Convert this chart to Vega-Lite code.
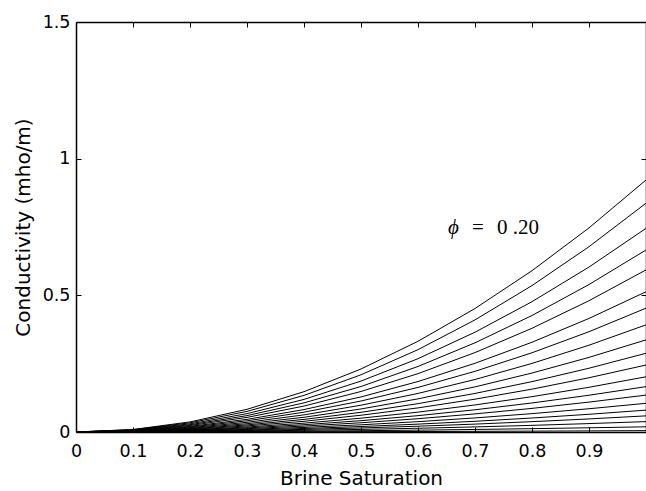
{
  "$schema": "https://vega.github.io/schema/vega-lite/v6.json",
  "width": 570,
  "height": 410,
  "autosize": {"type": "none"},
  "padding": {"left": 76, "top": 22, "right": 0, "bottom": 59},
  "background": "white",
  "config": {
    "view": {"stroke": null},
    "axis": {
      "grid": false,
      "domainColor": "black",
      "domainWidth": 1.5,
      "tickColor": "black",
      "tickWidth": 1,
      "tickSize": -5,
      "labelColor": "black",
      "labelFont": "DejaVu Sans",
      "labelFontSize": 17.5,
      "labelFlush": false,
      "labelOverlap": false,
      "titleFont": "DejaVu Sans",
      "titleFontSize": 20,
      "titleFontWeight": "normal",
      "titleColor": "black"
    }
  },
  "resolve": {"scale": {"x": "shared", "y": "shared"}, "axis": {"x": "independent", "y": "independent"}},
  "layer": [
    {
      "data": {"values": [
        {"phi":0.20,"S":0,"sigma":0},{"phi":0.20,"S":0.1,"sigma":0.0092},{"phi":0.20,"S":0.2,"sigma":0.0369},{"phi":0.20,"S":0.3,"sigma":0.0830},{"phi":0.20,"S":0.4,"sigma":0.1475},{"phi":0.20,"S":0.5,"sigma":0.2305},{"phi":0.20,"S":0.6,"sigma":0.3319},{"phi":0.20,"S":0.7,"sigma":0.4518},{"phi":0.20,"S":0.8,"sigma":0.5901},{"phi":0.20,"S":0.9,"sigma":0.7468},{"phi":0.20,"S":1.0,"sigma":0.922},
        {"phi":0.19,"S":0,"sigma":0},{"phi":0.19,"S":0.1,"sigma":0.0084},{"phi":0.19,"S":0.2,"sigma":0.0335},{"phi":0.19,"S":0.3,"sigma":0.0753},{"phi":0.19,"S":0.4,"sigma":0.1339},{"phi":0.19,"S":0.5,"sigma":0.2093},{"phi":0.19,"S":0.6,"sigma":0.3013},{"phi":0.19,"S":0.7,"sigma":0.4101},{"phi":0.19,"S":0.8,"sigma":0.5357},{"phi":0.19,"S":0.9,"sigma":0.6780},{"phi":0.19,"S":1.0,"sigma":0.837},
        {"phi":0.18,"S":0,"sigma":0},{"phi":0.18,"S":0.1,"sigma":0.0075},{"phi":0.18,"S":0.2,"sigma":0.0298},{"phi":0.18,"S":0.3,"sigma":0.0671},{"phi":0.18,"S":0.4,"sigma":0.1192},{"phi":0.18,"S":0.5,"sigma":0.1863},{"phi":0.18,"S":0.6,"sigma":0.2682},{"phi":0.18,"S":0.7,"sigma":0.3651},{"phi":0.18,"S":0.8,"sigma":0.4768},{"phi":0.18,"S":0.9,"sigma":0.6035},{"phi":0.18,"S":1.0,"sigma":0.745},
        {"phi":0.17,"S":0,"sigma":0},{"phi":0.17,"S":0.1,"sigma":0.0067},{"phi":0.17,"S":0.2,"sigma":0.0266},{"phi":0.17,"S":0.3,"sigma":0.0599},{"phi":0.17,"S":0.4,"sigma":0.1066},{"phi":0.17,"S":0.5,"sigma":0.1665},{"phi":0.17,"S":0.6,"sigma":0.2398},{"phi":0.17,"S":0.7,"sigma":0.3263},{"phi":0.17,"S":0.8,"sigma":0.4262},{"phi":0.17,"S":0.9,"sigma":0.5395},{"phi":0.17,"S":1.0,"sigma":0.666},
        {"phi":0.16,"S":0,"sigma":0},{"phi":0.16,"S":0.1,"sigma":0.0059},{"phi":0.16,"S":0.2,"sigma":0.0237},{"phi":0.16,"S":0.3,"sigma":0.0534},{"phi":0.16,"S":0.4,"sigma":0.0949},{"phi":0.16,"S":0.5,"sigma":0.1483},{"phi":0.16,"S":0.6,"sigma":0.2135},{"phi":0.16,"S":0.7,"sigma":0.2906},{"phi":0.16,"S":0.8,"sigma":0.3795},{"phi":0.16,"S":0.9,"sigma":0.4803},{"phi":0.16,"S":1.0,"sigma":0.593},
        {"phi":0.15,"S":0,"sigma":0},{"phi":0.15,"S":0.1,"sigma":0.0051},{"phi":0.15,"S":0.2,"sigma":0.0205},{"phi":0.15,"S":0.3,"sigma":0.0462},{"phi":0.15,"S":0.4,"sigma":0.0821},{"phi":0.15,"S":0.5,"sigma":0.1283},{"phi":0.15,"S":0.6,"sigma":0.1847},{"phi":0.15,"S":0.7,"sigma":0.2514},{"phi":0.15,"S":0.8,"sigma":0.3283},{"phi":0.15,"S":0.9,"sigma":0.4155},{"phi":0.15,"S":1.0,"sigma":0.513},
        {"phi":0.14,"S":0,"sigma":0},{"phi":0.14,"S":0.1,"sigma":0.0045},{"phi":0.14,"S":0.2,"sigma":0.0181},{"phi":0.14,"S":0.3,"sigma":0.0408},{"phi":0.14,"S":0.4,"sigma":0.0725},{"phi":0.14,"S":0.5,"sigma":0.1133},{"phi":0.14,"S":0.6,"sigma":0.1631},{"phi":0.14,"S":0.7,"sigma":0.2220},{"phi":0.14,"S":0.8,"sigma":0.2899},{"phi":0.14,"S":0.9,"sigma":0.3669},{"phi":0.14,"S":1.0,"sigma":0.453},
        {"phi":0.13,"S":0,"sigma":0},{"phi":0.13,"S":0.1,"sigma":0.0039},{"phi":0.13,"S":0.2,"sigma":0.0157},{"phi":0.13,"S":0.3,"sigma":0.0353},{"phi":0.13,"S":0.4,"sigma":0.0627},{"phi":0.13,"S":0.5,"sigma":0.0980},{"phi":0.13,"S":0.6,"sigma":0.1411},{"phi":0.13,"S":0.7,"sigma":0.1921},{"phi":0.13,"S":0.8,"sigma":0.2509},{"phi":0.13,"S":0.9,"sigma":0.3175},{"phi":0.13,"S":1.0,"sigma":0.392},
        {"phi":0.12,"S":0,"sigma":0},{"phi":0.12,"S":0.1,"sigma":0.0034},{"phi":0.12,"S":0.2,"sigma":0.0135},{"phi":0.12,"S":0.3,"sigma":0.0303},{"phi":0.12,"S":0.4,"sigma":0.0539},{"phi":0.12,"S":0.5,"sigma":0.0843},{"phi":0.12,"S":0.6,"sigma":0.1213},{"phi":0.12,"S":0.7,"sigma":0.1651},{"phi":0.12,"S":0.8,"sigma":0.2157},{"phi":0.12,"S":0.9,"sigma":0.2730},{"phi":0.12,"S":1.0,"sigma":0.337},
        {"phi":0.11,"S":0,"sigma":0},{"phi":0.11,"S":0.1,"sigma":0.0029},{"phi":0.11,"S":0.2,"sigma":0.0115},{"phi":0.11,"S":0.3,"sigma":0.0259},{"phi":0.11,"S":0.4,"sigma":0.0461},{"phi":0.11,"S":0.5,"sigma":0.0720},{"phi":0.11,"S":0.6,"sigma":0.1037},{"phi":0.11,"S":0.7,"sigma":0.1411},{"phi":0.11,"S":0.8,"sigma":0.1843},{"phi":0.11,"S":0.9,"sigma":0.2333},{"phi":0.11,"S":1.0,"sigma":0.288},
        {"phi":0.10,"S":0,"sigma":0},{"phi":0.10,"S":0.1,"sigma":0.0025},{"phi":0.10,"S":0.2,"sigma":0.0098},{"phi":0.10,"S":0.3,"sigma":0.0221},{"phi":0.10,"S":0.4,"sigma":0.0392},{"phi":0.10,"S":0.5,"sigma":0.0613},{"phi":0.10,"S":0.6,"sigma":0.0882},{"phi":0.10,"S":0.7,"sigma":0.1201},{"phi":0.10,"S":0.8,"sigma":0.1568},{"phi":0.10,"S":0.9,"sigma":0.1985},{"phi":0.10,"S":1.0,"sigma":0.245},
        {"phi":0.09,"S":0,"sigma":0},{"phi":0.09,"S":0.1,"sigma":0.0020},{"phi":0.09,"S":0.2,"sigma":0.0081},{"phi":0.09,"S":0.3,"sigma":0.0182},{"phi":0.09,"S":0.4,"sigma":0.0323},{"phi":0.09,"S":0.5,"sigma":0.0505},{"phi":0.09,"S":0.6,"sigma":0.0727},{"phi":0.09,"S":0.7,"sigma":0.0990},{"phi":0.09,"S":0.8,"sigma":0.1293},{"phi":0.09,"S":0.9,"sigma":0.1636},{"phi":0.09,"S":1.0,"sigma":0.202},
        {"phi":0.08,"S":0,"sigma":0},{"phi":0.08,"S":0.1,"sigma":0.0017},{"phi":0.08,"S":0.2,"sigma":0.0066},{"phi":0.08,"S":0.3,"sigma":0.0149},{"phi":0.08,"S":0.4,"sigma":0.0266},{"phi":0.08,"S":0.5,"sigma":0.0415},{"phi":0.08,"S":0.6,"sigma":0.0598},{"phi":0.08,"S":0.7,"sigma":0.0813},{"phi":0.08,"S":0.8,"sigma":0.1062},{"phi":0.08,"S":0.9,"sigma":0.1345},{"phi":0.08,"S":1.0,"sigma":0.166},
        {"phi":0.07,"S":0,"sigma":0},{"phi":0.07,"S":0.1,"sigma":0.0014},{"phi":0.07,"S":0.2,"sigma":0.0054},{"phi":0.07,"S":0.3,"sigma":0.0122},{"phi":0.07,"S":0.4,"sigma":0.0216},{"phi":0.07,"S":0.5,"sigma":0.0338},{"phi":0.07,"S":0.6,"sigma":0.0486},{"phi":0.07,"S":0.7,"sigma":0.0662},{"phi":0.07,"S":0.8,"sigma":0.0864},{"phi":0.07,"S":0.9,"sigma":0.1094},{"phi":0.07,"S":1.0,"sigma":0.135},
        {"phi":0.06,"S":0,"sigma":0},{"phi":0.06,"S":0.1,"sigma":0.0011},{"phi":0.06,"S":0.2,"sigma":0.0042},{"phi":0.06,"S":0.3,"sigma":0.0095},{"phi":0.06,"S":0.4,"sigma":0.0168},{"phi":0.06,"S":0.5,"sigma":0.0263},{"phi":0.06,"S":0.6,"sigma":0.0378},{"phi":0.06,"S":0.7,"sigma":0.0515},{"phi":0.06,"S":0.8,"sigma":0.0672},{"phi":0.06,"S":0.9,"sigma":0.0851},{"phi":0.06,"S":1.0,"sigma":0.105},
        {"phi":0.05,"S":0,"sigma":0},{"phi":0.05,"S":0.1,"sigma":0.0008},{"phi":0.05,"S":0.2,"sigma":0.0032},{"phi":0.05,"S":0.3,"sigma":0.0072},{"phi":0.05,"S":0.4,"sigma":0.0128},{"phi":0.05,"S":0.5,"sigma":0.0200},{"phi":0.05,"S":0.6,"sigma":0.0288},{"phi":0.05,"S":0.7,"sigma":0.0392},{"phi":0.05,"S":0.8,"sigma":0.0512},{"phi":0.05,"S":0.9,"sigma":0.0648},{"phi":0.05,"S":1.0,"sigma":0.080},
        {"phi":0.04,"S":0,"sigma":0},{"phi":0.04,"S":0.1,"sigma":0.0006},{"phi":0.04,"S":0.2,"sigma":0.0024},{"phi":0.04,"S":0.3,"sigma":0.0053},{"phi":0.04,"S":0.4,"sigma":0.0094},{"phi":0.04,"S":0.5,"sigma":0.0148},{"phi":0.04,"S":0.6,"sigma":0.0212},{"phi":0.04,"S":0.7,"sigma":0.0289},{"phi":0.04,"S":0.8,"sigma":0.0378},{"phi":0.04,"S":0.9,"sigma":0.0478},{"phi":0.04,"S":1.0,"sigma":0.059},
        {"phi":0.03,"S":0,"sigma":0},{"phi":0.03,"S":0.1,"sigma":0.0004},{"phi":0.03,"S":0.2,"sigma":0.0015},{"phi":0.03,"S":0.3,"sigma":0.0034},{"phi":0.03,"S":0.4,"sigma":0.0061},{"phi":0.03,"S":0.5,"sigma":0.0095},{"phi":0.03,"S":0.6,"sigma":0.0137},{"phi":0.03,"S":0.7,"sigma":0.0186},{"phi":0.03,"S":0.8,"sigma":0.0243},{"phi":0.03,"S":0.9,"sigma":0.0308},{"phi":0.03,"S":1.0,"sigma":0.038},
        {"phi":0.02,"S":0,"sigma":0},{"phi":0.02,"S":0.1,"sigma":0.0002},{"phi":0.02,"S":0.2,"sigma":0.0008},{"phi":0.02,"S":0.3,"sigma":0.0017},{"phi":0.02,"S":0.4,"sigma":0.0030},{"phi":0.02,"S":0.5,"sigma":0.0048},{"phi":0.02,"S":0.6,"sigma":0.0068},{"phi":0.02,"S":0.7,"sigma":0.0093},{"phi":0.02,"S":0.8,"sigma":0.0122},{"phi":0.02,"S":0.9,"sigma":0.0154},{"phi":0.02,"S":1.0,"sigma":0.019},
        {"phi":0.01,"S":0,"sigma":0},{"phi":0.01,"S":0.1,"sigma":0.0001},{"phi":0.01,"S":0.2,"sigma":0.0002},{"phi":0.01,"S":0.3,"sigma":0.0005},{"phi":0.01,"S":0.4,"sigma":0.0008},{"phi":0.01,"S":0.5,"sigma":0.0013},{"phi":0.01,"S":0.6,"sigma":0.0018},{"phi":0.01,"S":0.7,"sigma":0.0025},{"phi":0.01,"S":0.8,"sigma":0.0032},{"phi":0.01,"S":0.9,"sigma":0.0041},{"phi":0.01,"S":1.0,"sigma":0.005}
      ]},
      "mark": {"type": "line", "color": "black", "strokeWidth": 1, "clip": true},
      "encoding": {
        "x": {"field": "S", "type": "quantitative",
              "scale": {"domain": [0, 1], "nice": false, "zero": false},
              "axis": {"orient": "bottom", "values": [0, 0.1, 0.2, 0.3, 0.4, 0.5, 0.6, 0.7, 0.8, 0.9], "format": "~g",
                       "labelPadding": 15, "title": "Brine Saturation", "titlePadding": 9}},
        "y": {"field": "sigma", "type": "quantitative",
              "scale": {"domain": [0, 1.5], "nice": false, "zero": false},
              "axis": {"orient": "left", "values": [0, 0.5, 1, 1.5], "format": "~g",
                       "labelPadding": 11, "title": "Conductivity (mho/m)", "titlePadding": 9}},
        "detail": {"field": "phi", "type": "nominal"}
      }
    },
    {
      "data": {"values": [{"label": "ϕ"}]},
      "mark": {"type": "text", "font": "Liberation Serif", "fontStyle": "italic", "fontSize": 21, "align": "left", "baseline": "middle", "color": "black"},
      "encoding": {
        "x": {"datum": 0.6526, "type": "quantitative",
              "axis": {"orient": "top", "values": [0.1, 0.2, 0.3, 0.4, 0.5, 0.6, 0.7, 0.8, 0.9], "labels": false, "title": null}},
        "y": {"datum": 0.746, "type": "quantitative",
              "axis": {"orient": "right", "values": [0.5, 1], "labels": false, "title": null}},
        "text": {"field": "label"}
      }
    },
    {
      "data": {"values": [{"label": "="}]},
      "mark": {"type": "text", "font": "Liberation Serif", "fontSize": 21, "align": "left", "baseline": "middle", "color": "black"},
      "encoding": {
        "x": {"datum": 0.6947, "type": "quantitative", "axis": null},
        "y": {"datum": 0.746, "type": "quantitative", "axis": null},
        "text": {"field": "label"}
      }
    },
    {
      "data": {"values": [{"label": "0 .20"}]},
      "mark": {"type": "text", "font": "Liberation Serif", "fontSize": 21, "align": "left", "baseline": "middle", "color": "black"},
      "encoding": {
        "x": {"datum": 0.7386, "type": "quantitative", "axis": null},
        "y": {"datum": 0.746, "type": "quantitative", "axis": null},
        "text": {"field": "label"}
      }
    }
  ]
}
